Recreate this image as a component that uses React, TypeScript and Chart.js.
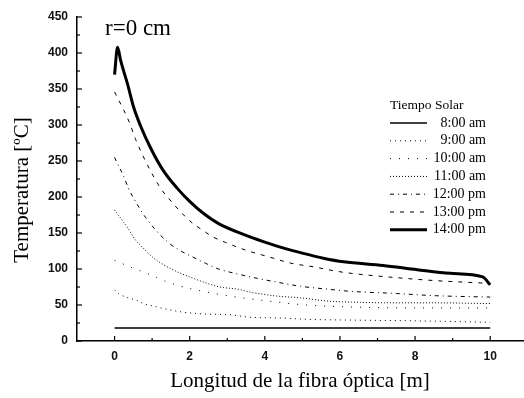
import React, { useEffect, useRef } from "react";
import { Chart, registerables } from "chart.js";

Chart.register(...registerables);

const X_TICKS = [0, 2, 4, 6, 8, 10];
const Y_TICKS = [0, 50, 100, 150, 200, 250, 300, 350, 400, 450];

const T08_X = [0, 10];
const T08_Y = [18, 18];

const T09_X = [0, 0.1, 0.3, 0.56, 0.82, 1.0, 1.22, 1.4, 1.83, 2.23, 3.15, 3.6, 4.4, 5.2, 6.35, 8, 10];
const T09_Y = [71, 66, 61, 57, 51, 49, 46, 44, 40, 38, 36, 33, 32, 30, 29, 28, 26];

const T10_X = [0, 0.5, 0.96, 1.4, 2, 3, 4, 5.1, 6.5, 8, 10];
const T10_Y = [112, 101, 92, 82, 73, 63, 56, 50, 47, 46, 46];

const T11_X = [0, 0.35, 0.56, 0.69, 1.0, 1.3, 1.67, 1.85, 2.15, 2.47, 2.8, 3.27, 3.7, 4.4, 4.95, 5.4, 5.8, 6.3, 7.5, 8.5, 10];
const T11_Y = [182, 157, 140, 133, 117, 106, 96, 92, 86, 80, 75, 72, 67, 62, 60, 57, 55, 54, 53, 53, 52];

const T12_X = [0, 0.08, 0.24, 0.37, 0.5, 0.82, 1.4, 1.8, 2.07, 2.42, 2.77, 3.2, 3.8, 4.3, 4.95, 5.67, 6.28, 7.5, 8.5, 10];
const T12_Y = [255, 246, 229, 212, 199, 172, 138, 124, 117, 108, 100, 94, 87, 82, 76, 72, 69, 66, 63, 61];

const T13_X = [0, 0.4, 0.56, 1.2, 1.36, 2.0, 2.34, 2.64, 2.95, 3.5, 4.1, 4.7, 5.3, 5.9, 6.3, 7.5, 8.5, 10];
const T13_Y = [346, 303, 280, 214, 203, 167, 154, 144, 137, 126, 117, 108, 103, 97, 94, 88, 84, 80];

const T14_X = [0, 0.08, 0.16, 0.35, 0.5, 0.69, 0.96, 1.28, 1.67, 2.0, 2.37, 2.77, 3.43, 3.96, 4.5, 5.0, 5.56, 6.1, 7.15, 8.06, 8.94, 9.8, 10];
const T14_Y = [370, 408, 390, 356, 326, 299, 268, 238, 212, 194, 177, 163, 148, 138, 129, 122, 115, 110, 105, 99, 94, 89, 78];

const LABELS = ["8:00 am", "9:00 am", "10:00 am", "11:00 am", "12:00 pm", "13:00 pm", "14:00 pm"];
const LEGEND_TITLE = "Tiempo Solar";
const X_TITLE = "Longitud de la fibra óptica [m]";
const Y_TITLE = "Temperatura [ºC]";
const NOTE = "r=0 cm";

const STYLES = [
  { w: 1.5, dash: [] as number[] },
  { w: 1, dash: [1, 4] },
  { w: 1, dash: [1, 8] },
  { w: 1, dash: [1, 2] },
  { w: 1, dash: [4, 4, 1, 4] },
  { w: 1, dash: [4, 6] },
  { w: 3, dash: [] as number[] },
];

const SERIES_X = [T08_X, T09_X, T10_X, T11_X, T12_X, T13_X, T14_X];
const SERIES_Y = [T08_Y, T09_Y, T10_Y, T11_Y, T12_Y, T13_Y, T14_Y];

const SERIF = "'Liberation Serif', 'Times New Roman', serif";
const SANS = "'Liberation Sans', Arial, sans-serif";

const decor = {
  id: "decor",
  afterDraw(chart: any) {
    const ctx = chart.ctx as CanvasRenderingContext2D;
    const xs = chart.scales.x;
    const ys = chart.scales.y;
    const area = chart.chartArea;
    ctx.save();
    ctx.strokeStyle = "#000";
    ctx.lineWidth = 1.2;
    ctx.setLineDash([]);
    for (let v = 0; v <= 450; v += 25) {
      const p = ys.getPixelForValue(v);
      const len = v % 50 === 0 ? 5 : 3;
      ctx.beginPath();
      ctx.moveTo(area.left, p);
      ctx.lineTo(area.left + len, p);
      ctx.stroke();
    }
    for (let v = 0; v <= 10; v += 1) {
      const p = xs.getPixelForValue(v);
      const len = v % 2 === 0 ? 5 : 3;
      ctx.beginPath();
      ctx.moveTo(p, area.bottom);
      ctx.lineTo(p, area.bottom - len);
      ctx.stroke();
    }
    ctx.fillStyle = "#000";
    ctx.font = `21px ${SERIF}`;
    ctx.textAlign = "center";
    ctx.textBaseline = "middle";
    ctx.fillText(X_TITLE, 300, 381);
    ctx.save();
    ctx.translate(22, 190);
    ctx.rotate(-Math.PI / 2);
    ctx.fillText(Y_TITLE, 0, 0);
    ctx.restore();
    ctx.textAlign = "left";
    ctx.font = `23px ${SERIF}`;
    ctx.fillText(NOTE, 105, 29);
    ctx.font = `13.5px ${SERIF}`;
    ctx.fillText(LEGEND_TITLE, 390, 105);
    ctx.font = `14px ${SERIF}`;
    LABELS.forEach((lab, i) => {
      const y = 123 + i * 17.8;
      ctx.textAlign = "right";
      ctx.fillText(lab, 486, y);
      ctx.beginPath();
      ctx.lineWidth = STYLES[i].w;
      ctx.setLineDash(STYLES[i].dash);
      ctx.moveTo(390, y);
      ctx.lineTo(427, y);
      ctx.stroke();
    });
    ctx.restore();
  },
};

export default function App() {
  const ref = useRef<HTMLCanvasElement | null>(null);
  useEffect(() => {
    if (!ref.current) return;
    const datasets = SERIES_X.map((xs, i) => ({
      label: LABELS[i],
      data: xs.map((x, j) => ({ x, y: SERIES_Y[i][j] })),
      borderColor: "#000",
      backgroundColor: "#000",
      borderWidth: STYLES[i].w,
      borderDash: STYLES[i].dash,
      pointRadius: 0,
      showLine: true,
      fill: false,
      cubicInterpolationMode: "monotone" as const,
    }));
    const chart = new Chart(ref.current, {
      type: "scatter",
      data: { datasets },
      plugins: [decor],
      options: {
        animation: false,
        responsive: false,
        devicePixelRatio: 1,
        layout: { padding: { left: 0, top: 17, right: 0, bottom: 0 } },
        plugins: { legend: { display: false }, tooltip: { enabled: false } },
        scales: {
          x: {
            type: "linear",
            min: -1,
            max: 10.9,
            afterFit: (s: any) => {
              s.height = 57;
            },
            afterBuildTicks: (s: any) => {
              s.ticks = X_TICKS.map((v) => ({ value: v }));
            },
            grid: { display: false, drawTicks: false },
            border: { display: true, color: "#000", width: 1.5 },
            ticks: { color: "#111", font: { family: SANS, size: 12, weight: "bold" }, padding: 8 },
          },
          y: {
            type: "linear",
            min: 0,
            max: 450,
            afterFit: (s: any) => {
              s.width = 77;
            },
            afterBuildTicks: (s: any) => {
              s.ticks = Y_TICKS.map((v) => ({ value: v }));
            },
            grid: { display: false, drawTicks: false },
            border: { display: true, color: "#000", width: 1.5 },
            ticks: { color: "#111", font: { family: SANS, size: 12, weight: "bold" }, padding: 9 },
          },
        },
      },
    });
    return () => chart.destroy();
  }, []);
  return (
    <div style={{ position: "absolute", left: 0, top: 0, width: 524, height: 398, background: "#fff" }}>
      <canvas ref={ref} width={524} height={398} style={{ width: 524, height: 398 }} />
    </div>
  );
}
